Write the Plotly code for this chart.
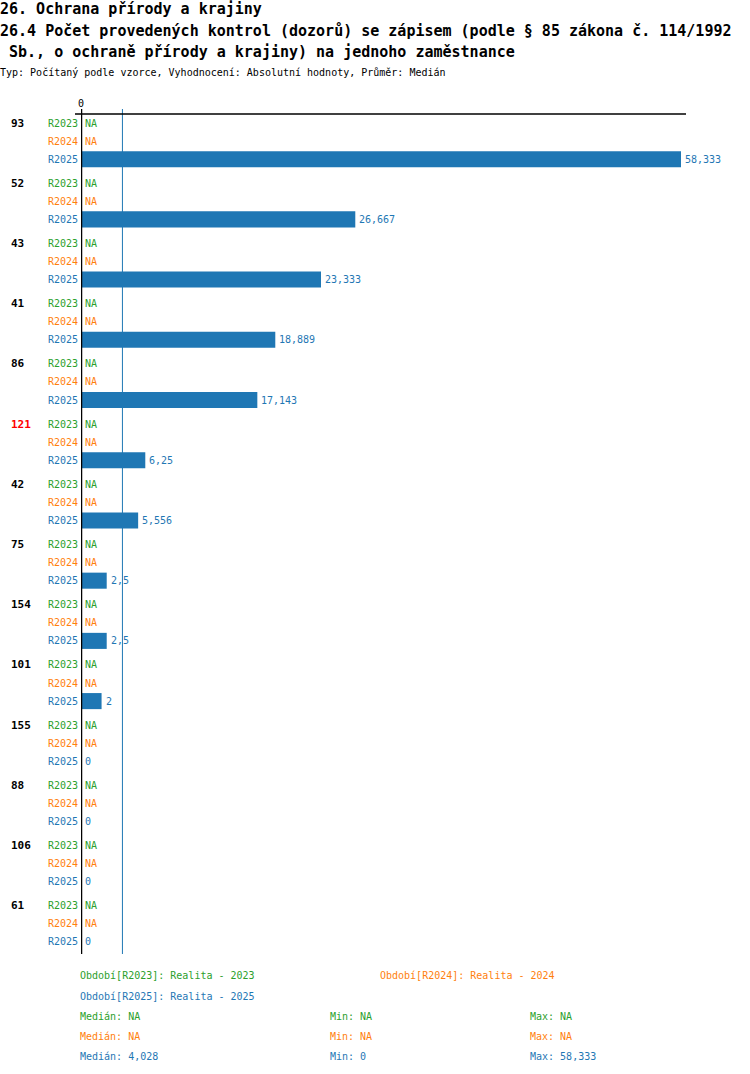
import plotly.graph_objects as go
import statistics

groups = ["93", "52", "43", "41", "86", "121", "42", "75", "154", "101", "155", "88", "106", "61"]
group_colors = ["black"] * 5 + ["#ff0000"] + ["black"] * 8
series_names = ["R2023", "R2024", "R2025"]
series_colors = ["#2ca02c", "#ff7f0e", "#1f77b4"]
r2023 = [None] * 14
r2024 = [None] * 14
r2025 = [58.333, 26.667, 23.333, 18.889, 17.143, 6.25, 5.556, 2.5, 2.5, 2, 0, 0, 0, 0]
legend_texts = ["Období[R2023]: Realita - 2023", "Období[R2024]: Realita - 2024", "Období[R2025]: Realita - 2025"]

title1 = "26. Ochrana přírody a krajiny"
title2 = "26.4 Počet provedených kontrol (dozorů) se zápisem (podle § 85 zákona č. 114/1992"
title3 = " Sb., o ochraně přírody a krajiny) na jednoho zaměstnance"
subtitle = "Typ: Počítaný podle vzorce, Vyhodnocení: Absolutní hodnoty, Průměr: Medián"

FONT = "DejaVu Sans Mono"
W, H = 750, 1074
L, R, T, B = 81, 69, 114, 120
PW, PH = W - L - R, H - T - B


def fmt(v):
    if v is None:
        return "NA"
    s = f"{v:.3f}".rstrip("0").rstrip(".")
    return s.replace(".", ",")


def ypos(g, r):
    return g * 60 + r * 18


fig = go.Figure()
all_series = [r2023, r2024, r2025]
ann = []
for si, (name, vals, col) in enumerate(zip(series_names, all_series, series_colors)):
    ys = [ypos(g, si) for g in range(len(groups))]
    bx = [v if v is not None else 0 for v in vals]
    fig.add_trace(go.Bar(x=bx, y=ys, orientation="h", width=16, marker_color=col,
                         marker_line_width=0, showlegend=False, hoverinfo="skip"))
    for xv, yv, v in zip(bx, ys, vals):
        ann.append(dict(x=xv, xref="x", y=yv, yref="y", text=fmt(v), showarrow=False,
                        xanchor="left", xshift=2, font=dict(family=FONT, size=10, color=col)))

xmax = max(r2025)
fig.update_xaxes(range=[0, xmax], visible=False, fixedrange=True)
fig.update_yaxes(range=[ypos(len(groups) - 1, 2) + 12, -9], visible=False, fixedrange=True)

for g, (lab, gc) in enumerate(zip(groups, group_colors)):
    ann.append(dict(x=(9 - L) / PW, xref="paper", y=ypos(g, 0), yref="y", text=f"<b>{lab}</b>",
                    showarrow=False, xanchor="left", font=dict(family=FONT, size=11, color=gc)))
    for si, (name, col) in enumerate(zip(series_names, series_colors)):
        ann.append(dict(x=(80 - L) / PW, xref="paper", y=ypos(g, si), yref="y", text=name,
                        showarrow=False, xanchor="right", font=dict(family=FONT, size=10, color=col)))

ann.append(dict(x=0, xref="x", y=1, yref="paper", yshift=11, text="0", showarrow=False,
                yanchor="middle", font=dict(family=FONT, size=10, color="black")))


def ptxt(x, y, text, size, color="black", bold=False):
    t = f"<b>{text}</b>" if bold else text
    return dict(x=(x - L) / PW, xref="paper", y=1 - (y - T) / PH, yref="paper", text=t,
                showarrow=False, xanchor="left", yanchor="middle",
                font=dict(family=FONT, size=size, color=color))


ann.append(ptxt(-2, 9, title1.replace(" ", "\u00a0"), 15, bold=True))
ann.append(ptxt(-2, 31, title2.replace(" ", "\u00a0"), 15, bold=True))
ann.append(ptxt(-2, 52, title3.replace(" ", "\u00a0"), 15, bold=True))
ann.append(ptxt(-2, 73, subtitle, 10))

ann.append(ptxt(78, 976, legend_texts[0], 10, series_colors[0]))
ann.append(ptxt(378, 976, legend_texts[1], 10, series_colors[1]))
ann.append(ptxt(78, 996, legend_texts[2], 10, series_colors[2]))

for si, vals in enumerate(all_series):
    nums = [v for v in vals if v is not None]
    if nums:
        med, mn, mx = statistics.median(nums), min(nums), max(nums)
    else:
        med = mn = mx = None
    yy = 1016 + si * 20
    col = series_colors[si]
    ann.append(ptxt(78, yy, f"Medián: {fmt(med)}", 10, col))
    ann.append(ptxt(328, yy, f"Min: {fmt(mn)}", 10, col))
    ann.append(ptxt(528, yy, f"Max: {fmt(mx)}", 10, col))

median25 = statistics.median(r2025)
top_ext = 1 + 5 / PH
shapes = [
    dict(type="line", xref="paper", yref="paper", x0=(75 - L) / PW, x1=(686 - L) / PW, y0=1, y1=1,
         line=dict(color="black", width=1.5)),
    dict(type="line", xref="x", yref="paper", x0=median25, x1=median25, y0=0, y1=top_ext,
         line=dict(color="#1f77b4", width=1), layer="below"),
    dict(type="line", xref="x", yref="paper", x0=0, x1=0, y0=0, y1=top_ext,
         line=dict(color="black", width=2.5)),
]

fig.update_layout(width=W, height=H, margin=dict(l=L, r=R, t=T, b=B, pad=0),
                  plot_bgcolor="white", paper_bgcolor="white", barmode="overlay",
                  annotations=ann, shapes=shapes, showlegend=False,
                  font=dict(family=FONT))

fig.write_html("out.html", config={"displayModeBar": False},
               post_script="document.body.style.margin='0';document.body.style.overflow='hidden';")
